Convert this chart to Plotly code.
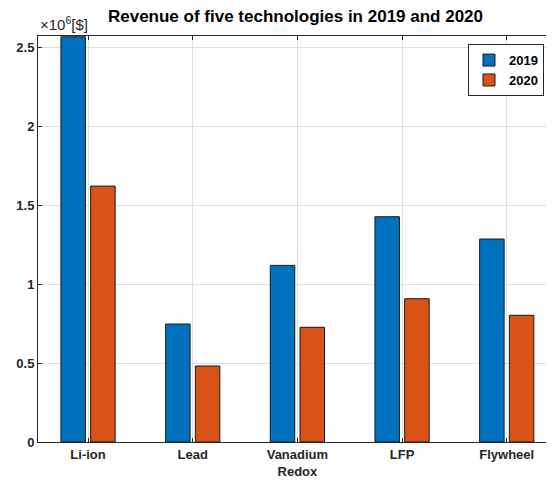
import plotly.graph_objects as go

categories = ["Li-ion", "Lead", "Vanadium Redox", "LFP", "Flywheel"]
tick_labels = ["Li-ion", "Lead", "Vanadium<br>Redox", "LFP", "Flywheel"]
rev_2019 = [2.565, 0.747, 1.118, 1.426, 1.285]   # x 1e6 $
rev_2020 = [1.62, 0.481, 0.726, 0.907, 0.802]     # x 1e6 $
y_ticks = [0, 0.5, 1, 1.5, 2, 2.5]

FONT = "Liberation Sans, Arial, Helvetica, sans-serif"
AX = "#262626"

fig = go.Figure()
fig.add_trace(go.Bar(x=categories, y=rev_2019, name="<b>2019</b>",
                     marker=dict(color="#0072BD", line=dict(color="#1a1a1a", width=1))))
fig.add_trace(go.Bar(x=categories, y=rev_2020, name="<b>2020</b>",
                     marker=dict(color="#D95319", line=dict(color="#1a1a1a", width=1))))

# page body has an 8px margin, so the figure is shrunk by 8px to fit the window
fig.update_layout(
    width=546, height=477,
    margin=dict(l=30, r=1, t=28, b=43),
    paper_bgcolor="white", plot_bgcolor="white",
    barmode="group", bargap=0.432, bargroupgap=0.176,
    font=dict(family=FONT, size=13, color=AX),
    title=dict(text="<b>Revenue of five technologies in 2019 and 2020</b>",
               xref="paper", x=0.5, xanchor="center", y=0.983, yanchor="middle",
               font=dict(family=FONT, size=17, color="#000000")),
    legend=dict(x=0.9825, y=0.98, xanchor="right", yanchor="top",
                bgcolor="white", bordercolor=AX, borderwidth=1,
                tracegroupgap=2,
                font=dict(family=FONT, size=13, color="#000000")),
    showlegend=True,
)
fig.update_xaxes(
    tickmode="array", tickvals=categories, ticktext=[f"<b>{t}</b>" for t in tick_labels],
    range=[-0.478, 4.442],
    showgrid=True, gridcolor="#dfdfdf", gridwidth=1,
    showline=True, linecolor=AX, linewidth=1, mirror="ticks",
    ticks="inside", ticklen=4, tickcolor=AX,
    tickfont=dict(family=FONT, size=13, color=AX),
)
fig.update_yaxes(
    range=[0, 2.57], tickvals=y_ticks,
    ticktext=[f"<b>{v:g}</b>" for v in y_ticks],
    showgrid=True, gridcolor="#dfdfdf", gridwidth=1, zeroline=False,
    showline=True, linecolor=AX, linewidth=1, mirror="ticks",
    ticks="inside", ticklen=4, tickcolor=AX,
    tickfont=dict(family=FONT, size=13, color=AX),
)
fig.add_annotation(text="×10<sup>6</sup>[$]", xref="paper", yref="paper",
                   x=0, y=1, xanchor="left", yanchor="bottom", yshift=1,
                   showarrow=False, font=dict(family=FONT, size=15, color=AX))

fig.write_html("out.html")
